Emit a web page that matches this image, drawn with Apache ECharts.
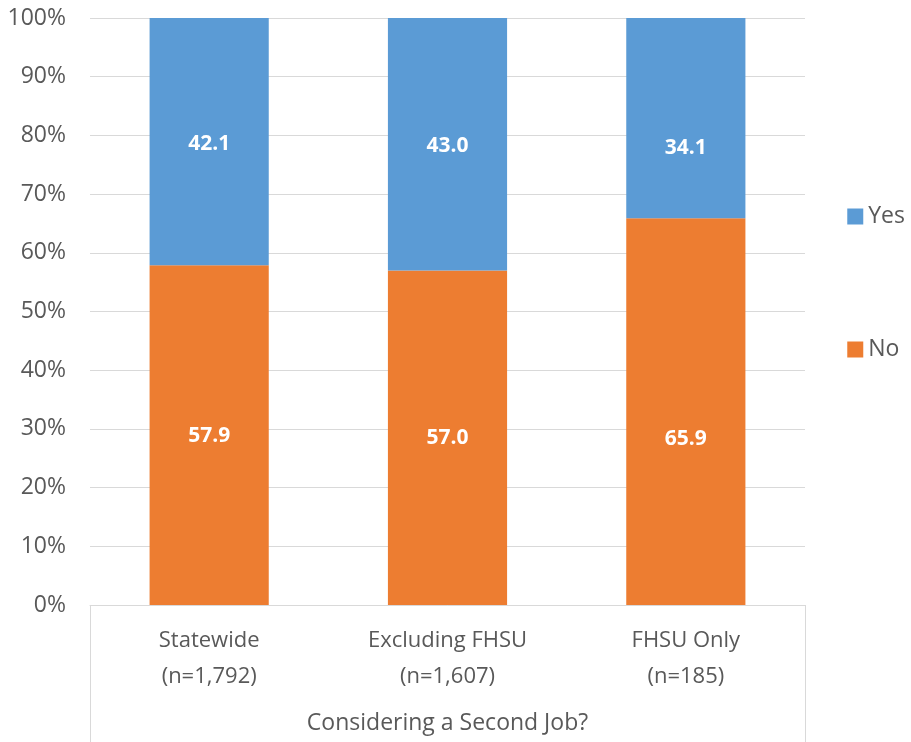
<!DOCTYPE html>
<html><head><meta charset="utf-8">
<script src="https://cdn.jsdelivr.net/npm/echarts@6/dist/echarts.min.js"></script>
<style>html,body{margin:0;padding:0;background:#fff}#c{width:911px;height:742px}</style>
</head><body><div id="c"></div>
<script>
const categories = ['Statewide\n(n=1,792)', 'Excluding FHSU\n(n=1,607)', 'FHSU Only\n(n=185)'];
const noValues = [57.9, 57.0, 65.9];
const yesValues = [42.1, 43.0, 34.1];
const axisTitle = 'Considering a Second Job?';
const yTicks = [0, 10, 20, 30, 40, 50, 60, 70, 80, 90, 100];

// label nudges (style only), matching the hand-placed labels of the original
const noLabelShift = [1, 0, 27];
const yesLabelShift = [2, 2, 30];

const font = 'Open Sans';
const chart = echarts.init(document.getElementById('c'));
const lbl = {show: true, position: 'inside', color: '#fff', fontWeight: 'bold', fontSize: 21, fontFamily: font, formatter: p => p.value.toFixed(1)};
const withShift = (vals, shifts) => vals.map((v, i) => ({value: v, label: {offset: [0, shifts[i]]}}));
chart.setOption({
  animation: false,
  grid: {left: 90, right: 106, top: 18, bottom: 137},
  legend: {
    data: ['Yes', 'No'], orient: 'vertical', right: 1, top: 200, itemGap: 110,
    itemWidth: 16, itemHeight: 16, icon: 'rect',
    textStyle: {fontSize: 23, color: '#595959', fontFamily: font}
  },
  xAxis: [{
    type: 'category', data: categories,
    axisLine: {show: true, lineStyle: {color: '#d9d9d9', width: 1}},
    axisTick: {show: false},
    axisLabel: {color: '#595959', fontSize: 22, fontFamily: font, lineHeight: 36, margin: 18}
  }, {
    type: 'category', data: [axisTitle], position: 'bottom',
    axisLine: {show: false},
    axisTick: {show: true, length: 140, lineStyle: {color: '#d9d9d9'}},
    axisLabel: {color: '#595959', fontSize: 23, fontFamily: font, margin: 107}
  }],
  yAxis: {
    type: 'value', min: 0, max: 100, interval: 10,
    axisLabel: {formatter: v => yTicks.includes(v) ? v + '%' : '', color: '#595959', fontSize: 23, fontFamily: font, margin: 24},
    axisLine: {show: false}, axisTick: {show: false},
    splitLine: {lineStyle: {color: '#d9d9d9', width: 1}}
  },
  series: [
    {name: 'No', type: 'bar', stack: 's', data: withShift(noValues, noLabelShift), barWidth: '50%', itemStyle: {color: '#ED7D31'}, label: lbl},
    {name: 'Yes', type: 'bar', stack: 's', data: withShift(yesValues, yesLabelShift), barWidth: '50%', itemStyle: {color: '#5B9BD5'}, label: lbl}
  ]
});
</script></body></html>
